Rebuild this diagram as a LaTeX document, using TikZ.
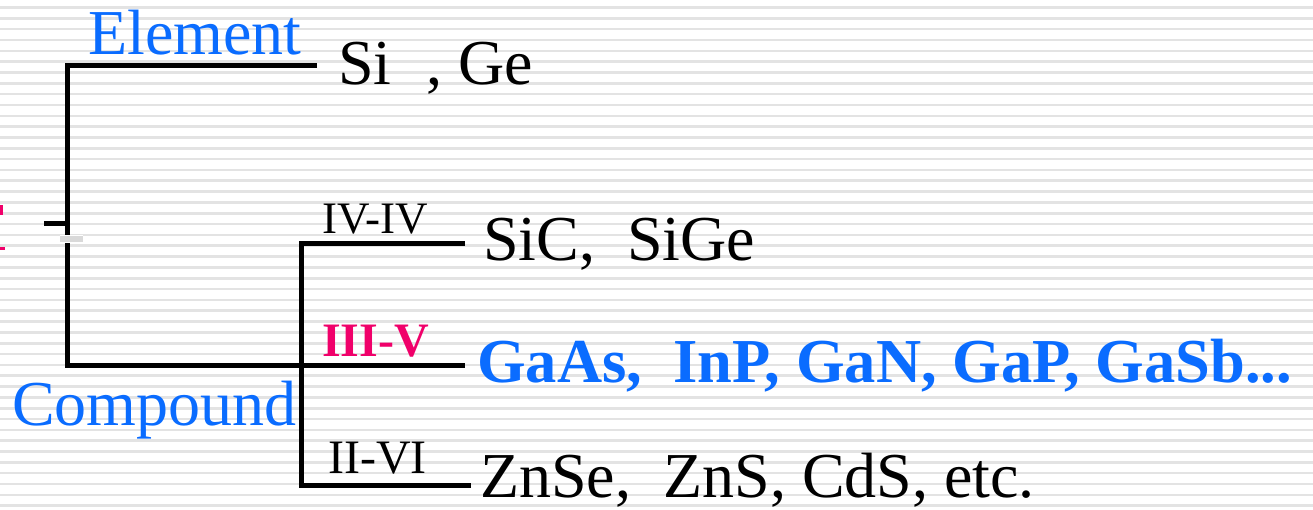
\documentclass[tikz,border=0pt]{standalone}
\usepackage{fontspec}
\setmainfont{Liberation Serif}
\definecolor{tblue}{HTML}{0A6CFF}
\definecolor{tpink}{HTML}{F0006A}
\definecolor{stripe}{HTML}{E3E3E3}
\begin{document}
\begin{tikzpicture}[x=1pt,y=-1pt,
  branch/.style={line width=5pt,line join=miter,line cap=butt},
  bigtxt/.style={anchor=base west,inner sep=0pt,font=\fontsize{64}{70}\selectfont},
  smalltxt/.style={anchor=base west,inner sep=0pt,font=\fontsize{45}{50}\selectfont},
  stripeline/.style={stripe,line width=2.6pt}]
\useasboundingbox (0,0) rectangle (1313,509);
\fill[white] (0,0) rectangle (1313,509);
\foreach \k in {0,...,46}{
  \draw[stripeline] (0,{7.5+10.83*\k}) -- (1313,{7.5+10.83*\k});
}
% pink marks at left edge
\fill[tpink] (0,205) rectangle (3,215);
\fill[tpink] (0,247) rectangle (5,250);
% tree coordinates
\coordinate (eend) at (317,65);
\coordinate (rtop) at (67,65);
\coordinate (rbot) at (67,365);
\coordinate (vend) at (465,365);
\coordinate (v2top) at (301,243);
\coordinate (v2bot) at (301,485);
\coordinate (ivend) at (465,243);
\coordinate (iiend) at (471,485);
\coordinate (tickl) at (44,223);
\coordinate (tickr) at (67,223);
\draw[branch] (eend) -- (rtop) -- (rbot) -- (vend);
\draw[branch] (ivend) -- (v2top) -- (v2bot) -- (iiend);
\draw[branch] (tickl) -- (tickr);
% gray patch interrupting the main stem
\fill[white] (60,235) rectangle (83,243);
\fill[stripe!90!gray] (60,236) rectangle (83,242);
% labels
\node[bigtxt,text=tblue] (element) at (88,54) {Element};
\node[bigtxt] (sige) at (338,84) {Si\hspace{0.55em}, Ge};
\node[smalltxt] (iviv) at (322,233) {IV-IV};
\node[bigtxt] (sic) at (483,260) {SiC,\ \ SiGe};
\node[smalltxt,text=tpink,font=\fontsize{48}{52}\selectfont\bfseries] (iiiv) at (322,356) {III-V};
\node[bigtxt,text=tblue,font=\fontsize{62.5}{70}\selectfont\bfseries] (gaas) at (477,382) {GaAs,\ \ InP, GaN, GaP, GaSb...};
\node[bigtxt,text=tblue] (compound) at (12,425) {Compound};
\node[smalltxt,font=\fontsize{48}{52}\selectfont] (iivi) at (328,473) {II-VI};
\node[bigtxt] (znse) at (480,497) {ZnSe,\ \ ZnS, CdS, etc.};
\end{tikzpicture}
\end{document}
